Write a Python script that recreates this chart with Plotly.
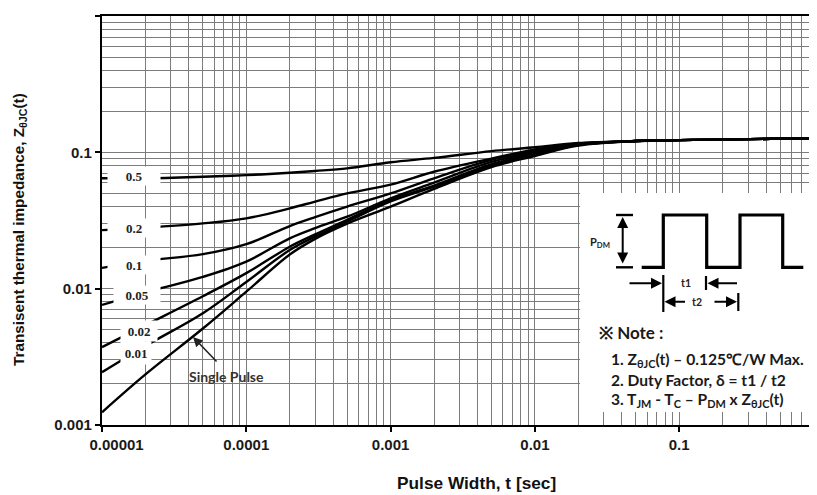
import plotly.graph_objects as go

# ---------------- data ----------------
t = [1e-5, 2e-5, 5e-5, 1e-4, 2e-4, 3e-4, 5e-4, 1e-3, 2e-3, 5e-3, 1e-2, 2e-2,
     5e-2, 0.1, 0.2, 0.5, 0.9]

z_d05 = [0.0645, 0.0645, 0.0662, 0.068, 0.0708, 0.073, 0.0763, 0.0846, 0.091, 0.102, 0.109, 0.117,
         0.121, 0.123, 0.124, 0.126, 0.127]
z_d02 = [0.0269, 0.028, 0.0301, 0.0328, 0.0388, 0.0435, 0.050, 0.058, 0.072, 0.090, 0.105, 0.116,
         0.121, 0.123, 0.124, 0.126, 0.127]
z_d01 = [0.0142, 0.016, 0.0179, 0.0212, 0.0288, 0.0335, 0.040, 0.050, 0.0645, 0.088, 0.102, 0.115,
         0.121, 0.123, 0.124, 0.126, 0.127]
z_d005 = [0.0076, 0.0094, 0.0122, 0.0158, 0.0234, 0.0278, 0.0337, 0.046, 0.060, 0.085, 0.100, 0.114,
          0.121, 0.123, 0.124, 0.126, 0.127]
z_d002 = [0.00373, 0.0054, 0.0088, 0.013, 0.0203, 0.025, 0.032, 0.0447, 0.057, 0.082, 0.098, 0.114,
          0.121, 0.123, 0.124, 0.126, 0.127]
z_d001 = [0.00244, 0.0038, 0.0066, 0.0112, 0.0192, 0.0241, 0.031, 0.0436, 0.056, 0.080, 0.096, 0.113,
          0.121, 0.123, 0.124, 0.126, 0.127]
z_single = [0.00124, 0.00235, 0.0051, 0.0095, 0.0178, 0.0232, 0.030, 0.040, 0.054, 0.078, 0.094, 0.112,
            0.121, 0.123, 0.124, 0.126, 0.127]

series = [("0.5", z_d05), ("0.2", z_d02), ("0.1", z_d01), ("0.05", z_d005),
          ("0.02", z_d002), ("0.01", z_d001), ("Single Pulse", z_single)]

x_tickvals = [1e-5, 1e-4, 1e-3, 1e-2, 1e-1]
x_ticktext = ["\u00a0" * 7 + "0.00001", "0.0001", "0.001", "0.01", "0.1"]
y_tickvals = [1e-3, 1e-2, 1e-1, 1]
y_ticktext = ["0.001", "0.01", "0.1", "1"]

# ---------------- layout helpers (screen pixel -> paper) ----------------
OFF = 8                      # page body margin
W, H = 817 - OFF, 495 - OFF
L, T, R, B = 102, 16, 817, 425   # plot area on screen


def px(x):
    return (x - L) / (R - L)


def py(y):
    return (B - y) / (B - T)


fig = go.Figure()
for name, z in series:
    fig.add_trace(go.Scatter(x=t, y=z, mode="lines", name=name,
                             line=dict(color="black", width=2.4, shape="spline", smoothing=1.0),
                             showlegend=False, hoverinfo="skip"))

minor_x = [m * 10 ** e for e in range(-5, 0) for m in range(2, 10)]
minor_y = [m * 10 ** e for e in range(-3, 0) for m in range(2, 10)]

grid_c = "#7c7c7c"
tick_font = dict(family="Liberation Sans, Arial", size=15, color="#1a1a1a", weight="bold")

fig.update_xaxes(type="log", range=[-5, -0.045], tickmode="array",
                 tickvals=x_tickvals, ticktext=x_ticktext, tickfont=tick_font,
                 showgrid=True, gridcolor=grid_c, gridwidth=1.2,
                 minor=dict(tickvals=minor_x, showgrid=True, gridcolor=grid_c, gridwidth=1.2, ticks=""),
                 showline=True, linecolor="black", linewidth=2.2, mirror=True,
                 ticks="outside", ticklen=5, tickcolor="black", tickwidth=1.5,
                 zeroline=False)
fig.update_yaxes(type="log", range=[-3, 0], tickmode="array",
                 tickvals=y_tickvals, ticktext=y_ticktext, tickfont=tick_font,
                 showgrid=True, gridcolor=grid_c, gridwidth=1.2,
                 minor=dict(tickvals=minor_y, showgrid=True, gridcolor=grid_c, gridwidth=1.2, ticks=""),
                 showline=True, linecolor="black", linewidth=2.2,
                 ticks="outside", ticklen=5, tickcolor="black", tickwidth=1.5,
                 zeroline=False)

annotations = []
shapes = []


def text_at(txt, x, y, font, **kw):
    d = dict(text=txt, x=px(x), y=py(y), xref="paper", yref="paper", showarrow=False,
             font=font, xanchor="center", yanchor="middle")
    d.update(kw)
    annotations.append(d)


# curve labels with white background (they interrupt the curves)
lab_font = dict(family="Liberation Serif, serif", size=13, color="#222", weight="bold")
curve_labels = [("0.5", 134, 176, 50, 16), ("0.2", 134, 228, 50, 16), ("0.1", 134, 265, 50, 16),
                ("0.05", 137, 295, 44, 16), ("0.02", 139, 331, 34, 18), ("0.01", 136, 353, 28, 20)]
for txt, cx, cy, w, h in curve_labels:
    text_at(txt, cx, cy, lab_font, bgcolor="white", width=w, height=h)

text_at("Single Pulse", 226, 376, dict(family="Lato, Liberation Sans", size=14,
                                       color="#333", weight="bold"))
annotations.append(dict(text="", x=px(193), y=py(337), xref="paper", yref="paper",
                        showarrow=True, ax=25, ay=26, arrowhead=2, arrowsize=1.2,
                        arrowwidth=1.6, arrowcolor="#222", standoff=0))

# axis titles
title_font = dict(family="Liberation Sans, Arial", size=15.3, color="#111", weight="bold")
text_at("Transisent thermal impedance, Z<sub>θJC</sub>(t)", 19, 230, title_font, textangle=-90)
text_at("Pulse Width, t [sec]", 476, 483, dict(title_font, size=17.3))

# ---------------- inset (pulse diagram + notes) ----------------
shapes.append(dict(type="rect", xref="paper", yref="paper", x0=px(580), x1=px(820),
                   y0=py(412), y1=py(193), fillcolor="white", line=dict(width=0), layer="above"))

pulse = [(641.7, 267.3), (663.3, 267.3), (663.3, 215), (706.7, 215), (706.7, 267.3),
         (740, 267.3), (740, 215), (782.7, 215), (782.7, 267.3), (803.3, 267.3)]
path = "M " + " L ".join(f"{px(a):.5f},{py(b):.5f}" for a, b in pulse)
shapes.append(dict(type="path", xref="paper", yref="paper", path=path,
                   line=dict(color="black", width=3.2), layer="above"))


def seg(x0, y0, x1, y1, w=2.2):
    shapes.append(dict(type="line", xref="paper", yref="paper", x0=px(x0), y0=py(y0),
                       x1=px(x1), y1=py(y1), line=dict(color="black", width=w), layer="above"))


seg(616, 215, 633, 215, 2.4)
seg(616, 267.3, 633, 267.3, 2.4)
seg(663.3, 275, 663.3, 312)
seg(706, 276, 706, 290)
seg(738.3, 293, 738.3, 311)

arrow_kw = dict(xref="paper", yref="paper", showarrow=True, arrowhead=2, arrowsize=1.1,
                arrowwidth=2, arrowcolor="black", standoff=0, text="")
annotations.append(dict(x=px(622.7), y=py(217), ax=0, ay=48, arrowside="end+start", **arrow_kw))
annotations.append(dict(x=px(662), y=py(283.3), ax=-34, ay=0, **arrow_kw))
annotations.append(dict(x=px(707.5), y=py(283.3), ax=31, ay=0, **arrow_kw))
annotations.append(dict(x=px(664.5), y=py(301.7), ax=22, ay=0, **arrow_kw))
annotations.append(dict(x=px(737), y=py(301.7), ax=-24, ay=0, **arrow_kw))

small_font = dict(family="Lato, Liberation Sans", size=10.5, color="#222", weight="bold")
text_at("t1", 686, 283, small_font)
text_at("t2", 697, 302, small_font, bgcolor="white")
text_at("P<sub>DM</sub>", 600, 242, dict(small_font, size=11))

note_font = dict(family="Lato, Liberation Sans", size=15.6, color="#1a1a1a", weight="bold")
text_at("※ Note :", 597, 332, dict(note_font, size=17), xanchor="left")
notes = ["1. Z<sub>θJC</sub>(t) – 0.125℃/W Max.",
         "2. Duty Factor, δ = t1 / t2",
         "3. T<sub>JM</sub> - T<sub>C</sub> – P<sub>DM</sub> x Z<sub>θJC</sub>(t)"]
for i, line in enumerate(notes):
    text_at(line, 609, 360 + 20 * i, note_font, xanchor="left")

fig.update_layout(width=W, height=H,
                  margin=dict(l=L - OFF, r=0, t=T - OFF, b=H - (B - OFF)),
                  paper_bgcolor="white", plot_bgcolor="white",
                  annotations=annotations, shapes=shapes)

fig.write_html("out.html")
